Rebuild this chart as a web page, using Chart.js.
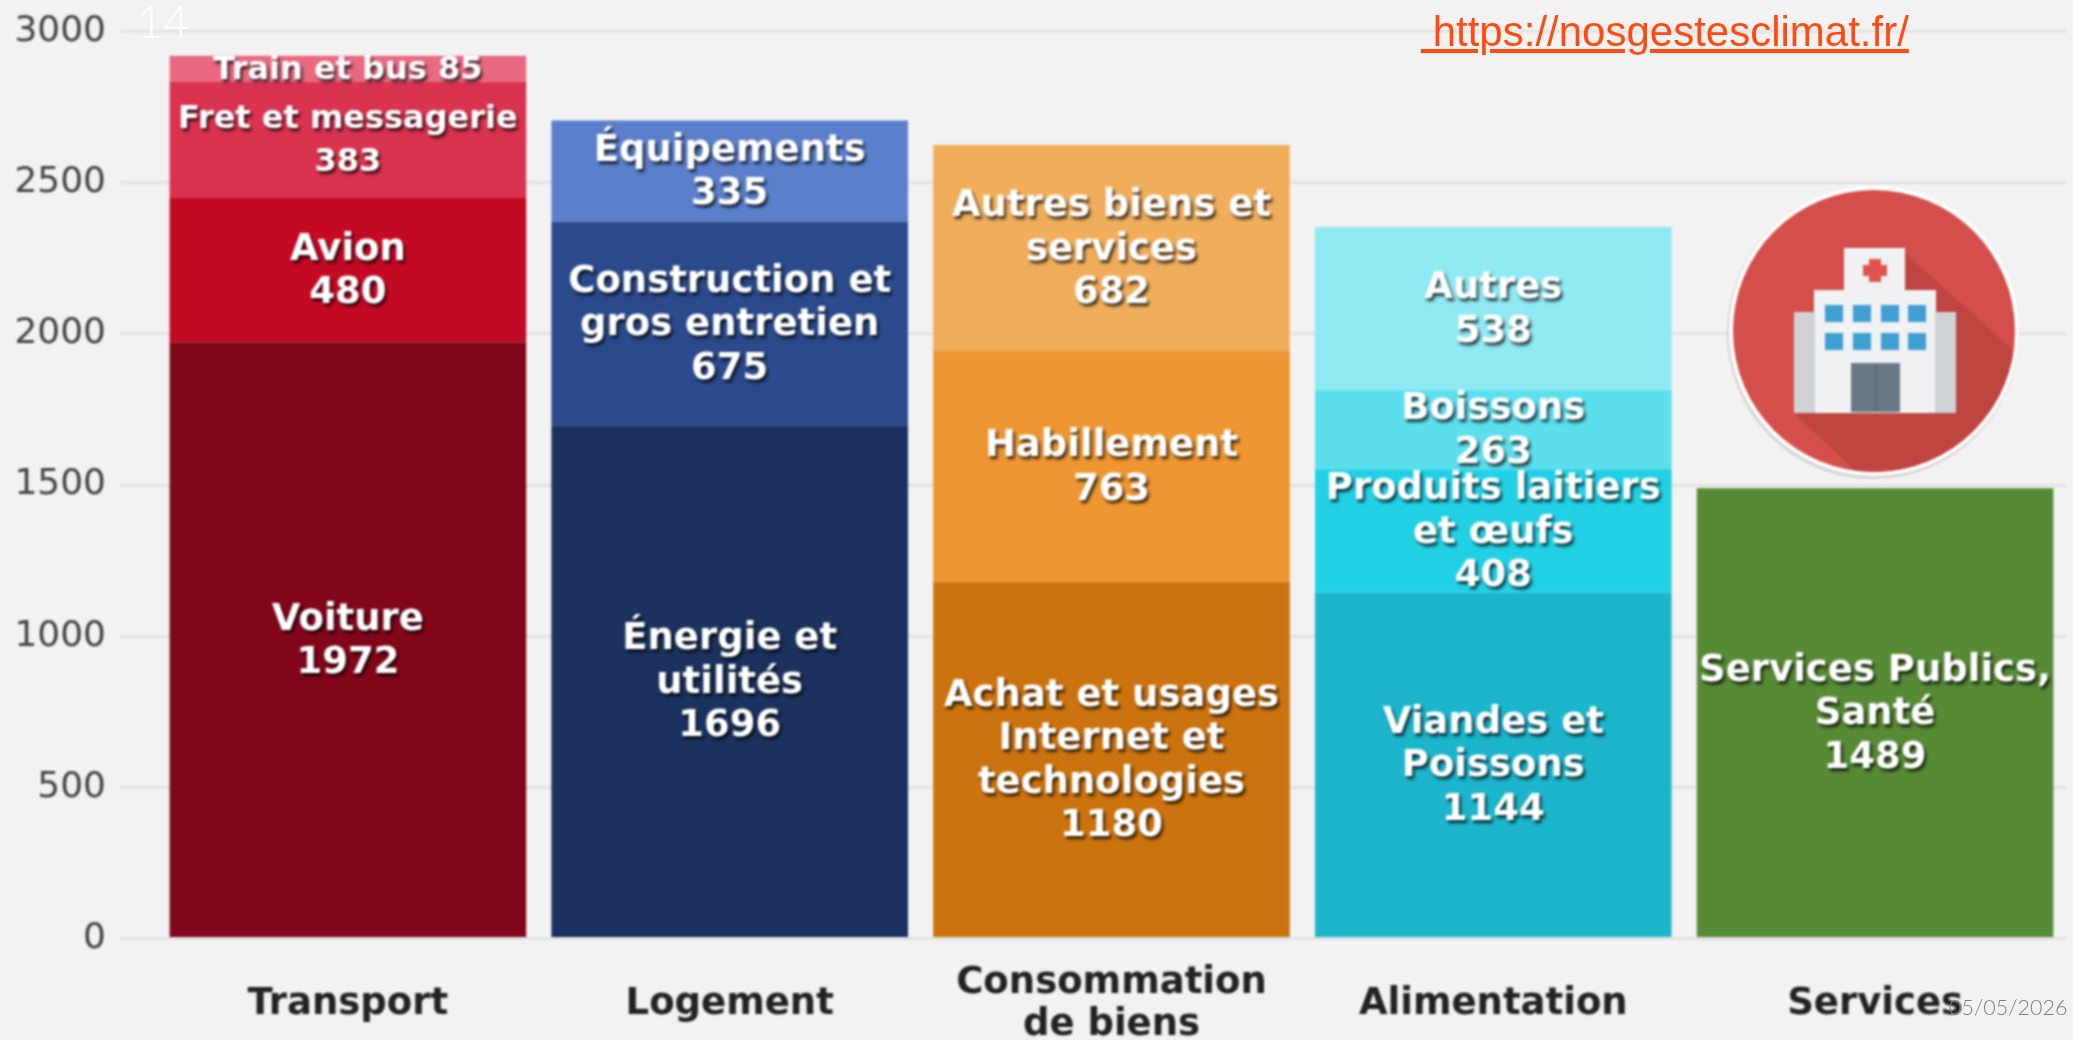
<!DOCTYPE html>
<html lang="fr">
<head>
<meta charset="utf-8">
<title>Empreinte carbone moyenne</title>
<script src="https://cdn.jsdelivr.net/npm/chart.js@4"></script>
<style>
html,body{margin:0;padding:0;background:#f2f2f2;width:2073px;height:1040px;overflow:hidden}
#chart{position:absolute;left:0;top:0;filter:blur(1px)}
#icon{position:absolute;left:1720px;top:176px;filter:blur(1px)}
.over{position:absolute;white-space:pre;line-height:1}
#page{left:137px;top:-6px;font:300 45px Lato;color:#fff}
#url{left:1421px;top:8px;font:42px "Liberation Sans";color:#ff4a12;text-decoration:underline;text-decoration-thickness:3.5px;text-underline-offset:3px}
#date{left:1949px;top:994px;font:300 21.5px Lato;color:#808080}
</style>
</head>
<body>
<canvas id="chart" width="2073" height="1040"></canvas>
<svg id="icon" width="310" height="310" viewBox="1720 176 310 310">
  <defs><clipPath id="disc"><circle cx="1874" cy="331" r="141"/></clipPath></defs>
  <circle cx="1873" cy="333" r="146" fill="#d4d4d4"/>
  <circle cx="1874" cy="331" r="145" fill="#fff"/>
  <circle cx="1874" cy="331" r="141" fill="#d44f4c"/>
  <polygon clip-path="url(#disc)" points="1905,253 2030,365 2030,490 1875,490 1794,413" fill="#bf4541"/>
  <rect x="1844" y="248" width="61" height="44" fill="#f0f1f3"/>
  <rect x="1814" y="290" width="122" height="123" fill="#f0f1f3"/>
  <rect x="1794" y="312" width="21" height="101" fill="#d0d3d6"/>
  <rect x="1935" y="312" width="21" height="101" fill="#d0d3d6"/>
  <rect x="1869" y="259" width="12" height="23" fill="#e0524e"/>
  <rect x="1863" y="265" width="24" height="11" fill="#e0524e"/>
  <g fill="#3e9fd0">
    <rect x="1825" y="305" width="18" height="17"/><rect x="1853" y="305" width="18" height="17"/><rect x="1881" y="305" width="18" height="17"/><rect x="1908" y="305" width="18" height="17"/>
    <rect x="1825" y="333" width="18" height="17"/><rect x="1853" y="333" width="18" height="17"/><rect x="1881" y="333" width="18" height="17"/><rect x="1908" y="333" width="18" height="17"/>
  </g>
  <rect x="1851" y="363" width="49" height="49" fill="#687884"/>
  <rect x="1875" y="363" width="1.5" height="49" fill="#566570"/>
</svg>
<div class="over" id="page">14</div>
<div class="over" id="url"> https://nosgestesclimat.fr/</div>
<div class="over" id="date">05/05/2026</div>
<script>
const categories = ['Transport', 'Logement', ['Consommation', 'de biens'], 'Alimentation', 'Services'];
const yTicks = [0, 500, 1000, 1500, 2000, 2500, 3000];

// One array per stack level, bottom to top; null = no segment in that column.
const level1Values = [1972, 1696, 1180, 1144, 1489];
const level2Values = [480, 675, 763, 408, null];
const level3Values = [383, 335, 682, 263, null];
const level4Values = [85, null, null, 538, null];

const level1Names = ['Voiture', 'Énergie et\nutilités', 'Achat et usages\nInternet et\ntechnologies', 'Viandes et\nPoissons', 'Services Publics,\nSanté'];
const level2Names = ['Avion', 'Construction et\ngros entretien', 'Habillement', 'Produits laitiers\net œufs', ''];
const level3Names = ['Fret et messagerie', 'Équipements', 'Autres biens et\nservices', 'Boissons', ''];
const level4Names = ['Train et bus', '', '', 'Autres', ''];

const level1Colors = ['#820619', '#1b315e', '#cb730f', '#1cb5cc', '#578a35'];
const level2Colors = ['#c30a24', '#2a4a8b', '#ee9732', '#22d0e6', '#578a35'];
const level3Colors = ['#d93350', '#5b7fcb', '#f0ae5c', '#5cdfec', '#578a35'];
const level4Colors = ['#e96a80', '#5b7fcb', '#f0ae5c', '#90eaf3', '#578a35'];

const levels = [
  {values: level1Values, names: level1Names, colors: level1Colors},
  {values: level2Values, names: level2Names, colors: level2Colors},
  {values: level3Values, names: level3Names, colors: level3Colors},
  {values: level4Values, names: level4Names, colors: level4Colors}
];

const FONT = '"DejaVu Sans"';
const smallLabels = ['Train et bus', 'Fret et messagerie'];
const segmentLabels = {
  id: 'segmentLabels',
  afterDatasetsDraw(chart) {
    const ctx = chart.ctx;
    ctx.save();
    ctx.textAlign = 'center';
    ctx.textBaseline = 'middle';
    ctx.shadowColor = 'rgba(0,0,0,0.75)';
    ctx.shadowOffsetX = 2;
    ctx.shadowOffsetY = 3;
    ctx.shadowBlur = 3;
    ctx.fillStyle = '#fff';
    chart.data.datasets.forEach((ds, d) => {
      chart.getDatasetMeta(d).data.forEach((bar, i) => {
        if (ds.data[i] == null) return;
        const name = ds.names[i];
        ctx.font = 'bold ' + (smallLabels.includes(name) ? 32 : 37) + 'px ' + FONT;
        // "Train et bus 85" fits on one line only because its segment is thin.
        const lines = ds.data[i] < 100 ? [name + ' ' + ds.data[i]] : [...name.split('\n'), String(ds.data[i])];
        const lh = 43.5;
        const mid = (bar.y + bar.base) / 2 + 2;
        lines.forEach((t, k) => ctx.fillText(t, bar.x, mid + (k - (lines.length - 1) / 2) * lh));
      });
    });
    ctx.restore();
  }
};

new Chart(document.getElementById('chart'), {
  type: 'bar',
  data: {
    labels: categories,
    datasets: levels.map(l => ({
      data: l.values,
      names: l.names,
      backgroundColor: l.colors,
      borderWidth: 0,
      categoryPercentage: 1,
      barPercentage: 0.934
    }))
  },
  plugins: [segmentLabels],
  options: {
    responsive: false,
    animation: false,
    events: [],
    layout: {padding: {top: 31.5, right: 7, left: 0, bottom: 0}},
    plugins: {legend: {display: false}, tooltip: {enabled: false}, title: {display: false}},
    scales: {
      x: {
        stacked: true,
        grid: {display: false},
        border: {display: false},
        afterFit(s) { s.height = 101.5; s.paddingLeft = 0; s.paddingRight = 0; },
        ticks: {
          autoSkip: false, maxRotation: 0, minRotation: 0,
          crossAlign: 'center',
          color: '#222',
          padding: 37,
          font: {family: FONT, weight: 'bold', size: 37, lineHeight: 1.14}
        }
      },
      y: {
        stacked: true,
        min: 0, max: 3000,
        afterFit(s) { s.width = 157; s.paddingTop = 0; s.paddingBottom = 0; },
        afterBuildTicks(s) { s.ticks = yTicks.map(v => ({value: v})); },
        border: {display: false},
        grid: {color: '#e2e2e2', lineWidth: 3, tickLength: 37, drawTicks: true},
        ticks: {
          color: '#444',
          padding: 14,
          callback: v => String(v),
          font: {family: FONT, size: 36}
        }
      }
    }
  }
});
</script>
</body>
</html>
